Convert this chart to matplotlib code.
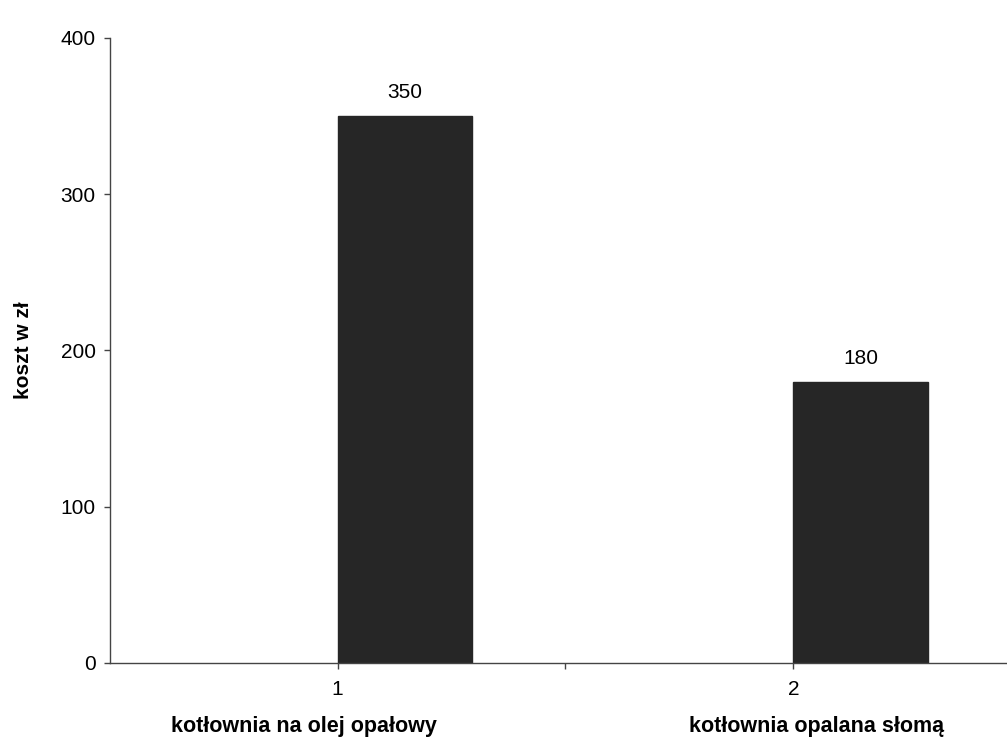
import matplotlib
matplotlib.use("Agg")
import matplotlib.pyplot as plt

# koszty ogrzewania dla dwóch typów kotłowni
kategorie = [1, 2]
nazwy = ["kotłownia na olej opałowy", "kotłownia opalana słomą"]
koszt = [350, 180]

plt.rcParams["font.family"] = ["Liberation Sans", "DejaVu Sans"]

fig = plt.figure(figsize=(10.07, 7.55), dpi=100)
ax = fig.add_axes([0.109, 0.122, 0.905, 0.828])

ax.bar(kategorie, koszt, width=0.295, align="edge", color="#262626", edgecolor="#262626")

ax.set_xlim(0.5, 2.5)
ax.set_ylim(0, 400)
ax.set_yticks([0, 100, 200, 300, 400])
ax.set_xticks(kategorie)
ax.set_xticks([1.5], minor=True)
ax.set_xticklabels([str(k) for k in kategorie])

for s in ["top", "right"]:
    ax.spines[s].set_visible(False)
for s in ["left", "bottom"]:
    ax.spines[s].set_color("#444444")
    ax.spines[s].set_linewidth(1.0)

ax.tick_params(axis="y", length=4, width=1, color="#444444", pad=6, labelsize=15)
ax.tick_params(axis="x", which="both", length=4, width=1, color="#444444", pad=8, labelsize=15)

ax.set_ylabel("koszt w zł", fontsize=15, fontweight="bold", labelpad=20)

# wartości nad słupkami
for k, v in zip(kategorie, koszt):
    ax.annotate(str(v), xy=(k + 0.295 / 2, v), xytext=(0, 10), textcoords="offset points",
                ha="center", va="bottom", fontsize=15)

# opisy kategorii pod numerami
przesuniecia = [-24, 17]
for k, n, dx in zip(kategorie, nazwy, przesuniecia):
    ax.annotate(n, xy=(k, 0), xytext=(dx, -46), textcoords="offset points",
                ha="center", va="center", fontsize=15.5, fontweight="bold",
                annotation_clip=False)

fig.savefig("out.png", dpi=100)
